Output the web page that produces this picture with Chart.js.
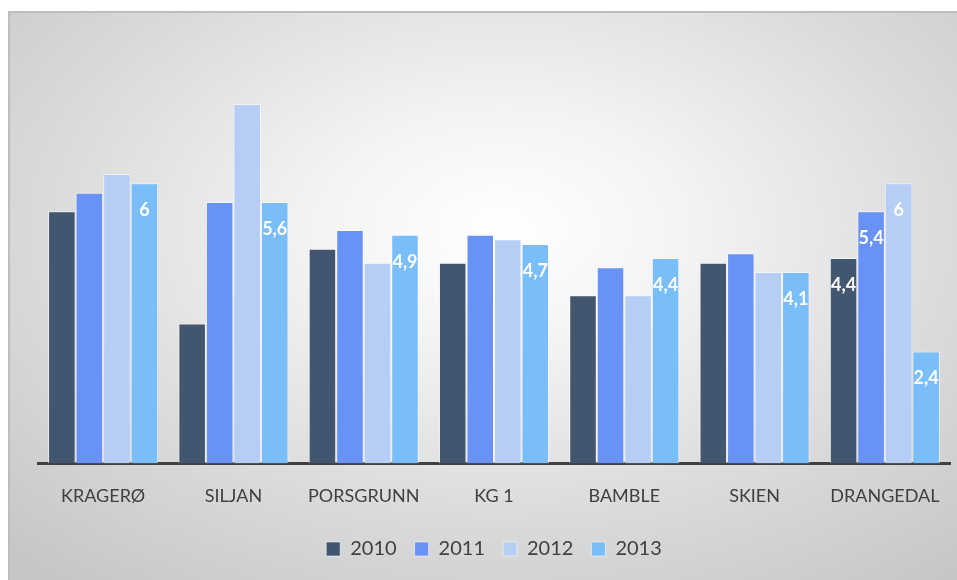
<!DOCTYPE html>
<html>
<head>
<meta charset="utf-8">
<script src="https://cdn.jsdelivr.net/npm/chart.js@4.4.0/dist/chart.umd.min.js"></script>
<style>
  html, body { margin:0; padding:0; background:#fff; }
  #wrap { position:relative; width:957px; height:580px; overflow:hidden; }
  #panel {
    position:absolute; left:8px; top:11px; right:0; bottom:0;
    border-top:2px solid #bdbdbd; border-left:2px solid #bdbdbd;
    background: radial-gradient(ellipse 75% 80% at 52% 38%, #ffffff 0%, #f4f4f4 25%, #dadada 65%, #c6c6c6 100%);
  }
  canvas { position:absolute; left:0; top:0; }
</style>
</head>
<body>
<div id="wrap">
  <div id="panel"></div>
  <canvas id="chart" width="957" height="580"></canvas>
</div>
<script>
const kommuner = ["KRAGERØ", "SILJAN", "PORSGRUNN", "KG 1", "BAMBLE", "SKIEN", "DRANGEDAL"];
const years = ["2010", "2011", "2012", "2013"];
const v2010 = [5.4, 3.0, 4.6, 4.3, 3.6, 4.3, 4.4];
const v2011 = [5.8, 5.6, 5.0, 4.9, 4.2, 4.5, 5.4];
const v2012 = [6.2, 7.7, 4.3, 4.8, 3.6, 4.1, 6.0];
const v2013 = [6.0, 5.6, 4.9, 4.7, 4.4, 4.1, 2.4];
const colors = ["#435670", "#6892f7", "#b6cef6", "#79bdf9"];

// which bars carry a value label: [series, category]
const labelled = [[3,0],[3,1],[3,2],[3,3],[3,4],[3,5],[3,6],[0,6],[1,6],[2,6]];

const valueLabels = {
  id: "valueLabels",
  afterDatasetsDraw(chart) {
    const ctx = chart.ctx;
    ctx.save();
    ctx.font = "bold 18px Lato";
    ctx.fillStyle = "#ffffff";
    ctx.textAlign = "center";
    ctx.textBaseline = "middle";
    labelled.forEach(([d, i]) => {
      const bar = chart.getDatasetMeta(d).data[i];
      const v = chart.data.datasets[d].data[i];
      ctx.fillText(String(v).replace(".", ","), bar.x, bar.y + 27);
    });
    ctx.restore();
  }
};

const series = [v2010, v2011, v2012, v2013];

new Chart(document.getElementById("chart").getContext("2d"), {
  type: "bar",
  data: {
    labels: kommuner,
    datasets: series.map((d, k) => ({
      label: years[k],
      data: d,
      backgroundColor: colors[k],
      borderColor: "rgba(255,255,255,0.55)",
      borderWidth: 1,
      categoryPercentage: 0.845,
      barPercentage: 1.0
    }))
  },
  options: {
    responsive: false,
    animation: false,
    layout: { padding: { left: 38, right: 7, top: 90, bottom: 11 } },
    plugins: {
      tooltip: { enabled: false },
      legend: {
        position: "bottom",
        labels: {
          boxWidth: 14, boxHeight: 14, padding: 18,
          color: "#404040",
          font: { family: "Lato", size: 20 }
        }
      }
    },
    scales: {
      y: { display: false, min: 0, max: 8 },
      x: {
        grid: { display: false },
        border: { display: true, color: "#404040", width: 3 },
        ticks: { color: "#404040", padding: 14, font: { family: "Lato", size: 18 } }
      }
    }
  },
  plugins: [valueLabels]
});
</script>
</body>
</html>
